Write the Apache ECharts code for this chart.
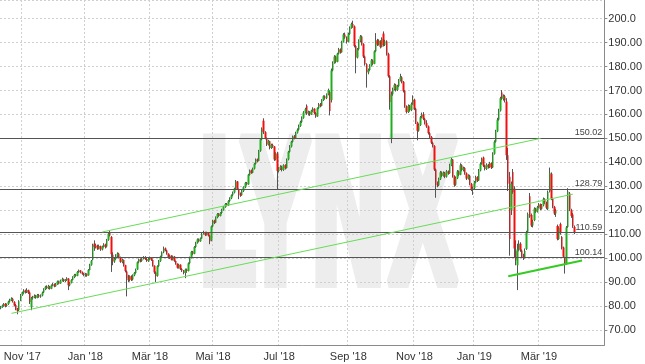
<!DOCTYPE html>
<html><head><meta charset="utf-8">
<script src="https://cdn.jsdelivr.net/npm/echarts@6/dist/echarts.min.js"></script>
<style>html,body{margin:0;padding:0;background:#fff}#c{width:645px;height:364px}</style>
</head><body><div id="c"></div><script>
// ---- data ----
const monthNames = ['Jan','Feb','Mär','Apr','Mai','Jun','Jul','Aug','Sep','Okt','Nov','Dez'];
const firstDay = '2017-10-12';
const holidays = ['2017-12-25','2017-12-26','2018-01-01','2018-03-30','2018-04-02','2018-05-01','2018-12-24','2018-12-25','2018-12-26','2018-12-31','2019-01-01','2019-04-19','2019-04-22'];
const totalSlots = 393;
// [open, close, low, high]
const ohlc = [
[79.0,79.5,78.6,80.0],[79.6,80.2,79.2,80.6],[80.0,80.8,79.6,81.2],[80.9,80.0,79.4,81.2],[80.0,80.6,79.6,81.0],
[80.8,81.8,80.4,82.2],[81.8,82.6,81.4,83.0],[82.4,83.0,82.0,83.6],[83.0,81.8,81.4,83.4],[81.6,80.2,79.8,82.0],
[80.4,78.6,78.2,80.8],[78.8,78.0,76.5,79.2],[78.2,82.0,77.8,82.4],[82.2,84.5,82.0,85.0],[84.6,85.6,84.2,86.0],
[85.4,86.4,85.0,87.0],[86.4,85.8,85.2,86.8],[85.8,86.6,85.4,87.4],[86.6,85.4,85.0,86.8],[85.6,81.6,80.8,86.0],
[79.4,83.2,78.2,83.8],[83.2,83.6,82.6,84.2],[83.6,84.2,83.2,84.8],[84.2,83.4,83.0,84.6],[83.4,84.6,83.2,85.0],
[84.6,83.8,83.4,85.0],[83.8,84.4,83.4,84.8],[84.4,85.5,84.0,86.0],[85.6,87.0,85.4,87.4],[87.0,88.0,86.6,88.4],
[88.0,87.4,87.0,88.6],[87.4,88.2,87.0,88.8],[88.2,87.2,86.8,88.4],[87.2,88.6,87.0,89.0],[88.6,89.0,88.2,89.6],
[89.0,88.2,87.8,89.4],[88.2,89.2,88.0,89.6],[89.2,90.2,88.8,90.6],[90.2,89.4,89.0,90.6],[89.4,90.6,89.2,91.0],
[90.6,91.2,90.2,91.8],[91.2,90.4,90.0,91.4],[90.4,90.8,90.0,91.2],[90.8,91.6,90.4,92.0],[91.4,88.6,86.6,91.6],
[88.6,89.6,88.2,90.0],[89.6,90.8,89.4,91.2],[90.8,92.0,90.6,92.4],[92.0,93.0,91.6,93.4],[93.0,92.6,92.2,93.4],
[92.6,94.2,92.4,94.6],[94.2,94.8,93.8,95.2],[94.8,94.0,93.6,95.0],[94.0,93.4,93.0,94.4],[93.4,92.8,92.4,93.8],
[92.8,93.2,92.2,93.8],[93.4,92.6,92.2,93.6],[92.8,95.0,92.6,95.4],[95.0,97.2,94.8,97.6],[97.2,98.8,96.8,99.2],
[99.4,105.4,99.0,106.0],[106.0,104.6,103.0,107.4],[104.6,105.2,104.0,106.0],[105.2,104.0,103.4,105.6],[104.0,105.0,103.6,105.6],
[105.0,103.6,103.0,105.2],[103.6,104.8,103.2,105.2],[104.8,105.6,104.4,106.2],[105.6,104.6,104.0,106.0],[104.8,107.6,104.4,108.0],
[107.6,110.2,107.2,110.8],[110.8,109.4,109.0,111.6],[108.8,101.6,94.2,109.2],[101.4,98.6,97.0,102.4],[98.6,99.6,98.0,100.2],
[99.6,101.0,99.2,101.6],[101.0,101.8,100.4,102.4],[101.8,100.2,99.8,102.2],[100.2,98.4,98.0,100.6],[98.4,99.2,97.8,99.8],
[99.2,97.0,96.4,99.4],[97.0,94.6,94.0,97.2],[94.4,92.0,84.0,94.8],[92.2,90.8,90.0,93.0],[90.8,92.4,90.2,92.8],
[92.4,91.0,90.4,92.8],[91.0,92.8,90.6,93.2],[92.8,93.8,92.4,94.2],[93.8,95.0,93.4,95.6],[95.2,98.2,95.0,98.6],
[98.2,99.4,97.8,99.8],[99.4,98.8,98.2,99.8],[98.8,99.8,98.4,100.2],[99.8,100.4,99.4,100.8],[100.4,99.6,99.2,100.8],
[99.6,98.8,98.4,100.0],[98.8,99.6,98.4,100.0],[99.6,100.2,99.2,100.6],[100.2,99.2,98.8,100.4],[99.2,96.8,96.4,99.4],
[96.8,94.0,93.4,97.0],[94.0,92.4,90.0,94.4],[92.6,96.6,92.2,97.0],[96.6,98.8,96.2,99.2],[98.8,100.6,98.4,101.0],
[100.6,102.4,100.2,102.8],[102.4,104.0,102.0,104.8],[104.0,103.2,102.8,104.4],[103.2,101.8,101.4,103.4],[101.8,100.2,99.8,102.0],
[100.2,101.0,99.6,101.4],[101.0,99.4,99.0,101.2],[99.4,100.6,99.0,101.0],[100.6,98.8,98.4,100.8],[98.8,97.6,97.2,99.0],
[97.6,96.0,95.6,97.8],[96.0,97.2,95.6,97.6],[97.2,95.4,95.0,97.4],[95.4,94.8,94.2,95.8],[94.8,93.8,93.2,95.0],
[93.8,95.2,91.6,95.6],[95.2,94.6,93.8,95.6],[94.6,97.8,94.4,98.2],[97.8,100.2,97.4,100.6],[100.2,102.6,99.8,103.0],
[102.6,101.8,101.2,103.0],[101.8,104.6,101.6,105.0],[104.6,106.4,104.2,106.8],[106.4,107.8,106.0,108.2],[107.8,107.0,106.6,108.2],
[107.0,108.2,106.8,108.6],[108.2,110.2,108.0,110.6],[110.2,110.8,109.8,111.4],[110.8,109.6,109.2,111.0],[109.6,110.6,109.4,111.0],
[110.6,109.4,109.0,110.8],[109.4,107.0,105.8,109.6],[107.4,113.2,107.0,113.6],[113.2,115.6,112.8,116.0],[115.6,114.8,114.2,116.0],
[114.8,117.0,114.6,117.4],[117.0,118.4,116.6,118.8],[118.4,117.6,117.2,118.8],[117.6,118.8,117.4,119.2],[118.8,120.2,118.4,120.6],
[120.2,121.4,119.8,121.8],[121.4,122.6,121.0,123.0],[122.6,122.0,121.6,123.0],[122.0,123.8,121.8,124.2],[123.8,125.0,123.4,125.4],
[125.0,126.2,124.6,126.6],[126.2,127.4,125.8,127.8],[127.4,129.0,127.0,129.4],[129.0,132.0,128.8,132.6],[132.0,128.8,128.4,132.2],
[128.8,127.0,124.6,129.0],[127.0,126.2,125.6,127.4],[126.2,128.0,126.0,128.4],[128.0,129.6,127.6,130.0],[129.6,131.4,129.2,131.8],
[131.4,130.8,130.4,131.8],[130.8,134.8,130.6,135.2],[134.8,136.6,134.4,137.0],[136.6,135.6,135.2,137.0],[135.6,137.4,135.4,137.8],
[137.4,139.4,137.0,139.8],[139.4,141.2,139.0,141.6],[141.2,140.6,140.0,141.6],[140.6,144.8,140.4,145.2],[144.8,149.6,144.4,150.0],
[149.6,154.0,149.2,154.6],[157.4,152.6,151.8,158.4],[152.6,150.2,149.6,153.0],[150.2,147.4,146.8,150.4],[147.4,148.8,147.0,149.4],
[148.8,146.0,145.4,149.0],[146.0,147.2,145.6,147.8],[147.2,146.6,146.0,147.8],[146.6,141.2,140.6,146.8],[141.2,143.8,140.8,144.2],
[143.6,136.4,128.6,144.4],[136.4,137.4,135.8,138.0],[137.4,138.2,136.8,138.8],[138.2,136.8,136.2,138.6],[136.8,138.8,136.4,139.2],
[138.8,137.6,137.0,139.2],[137.6,141.2,137.4,141.6],[141.2,144.4,140.8,144.8],[144.4,146.6,144.0,147.2],[146.6,148.6,146.2,149.0],
[148.6,150.8,148.2,151.2],[150.8,150.2,149.6,151.4],[150.2,152.4,150.0,152.8],[152.4,153.6,152.0,154.2],[153.6,155.2,153.2,155.8],
[155.2,156.8,154.8,157.4],[156.8,158.6,156.4,159.2],[158.6,160.8,158.2,161.4],[160.8,162.2,160.4,162.8],[163.6,160.4,159.8,164.2],
[160.4,161.0,159.6,161.6],[161.0,160.0,159.4,161.4],[160.0,161.6,159.8,162.0],[161.6,162.4,161.0,163.0],[162.4,160.6,160.0,162.6],
[160.6,159.2,158.6,161.0],[159.2,162.6,159.0,163.0],[162.6,164.2,162.2,164.8],[164.2,163.6,163.0,164.8],[163.6,166.0,163.4,166.4],
[166.0,167.6,165.6,168.0],[167.6,166.8,166.2,168.0],[166.8,168.4,166.4,168.8],[168.4,170.2,168.0,170.8],[169.4,161.4,159.6,170.0],
[166.0,178.4,165.0,179.2],[178.4,181.6,178.0,182.2],[181.6,184.2,181.2,184.8],[184.2,182.0,181.4,184.6],[182.0,185.4,181.8,185.8],
[185.4,187.2,185.0,187.8],[187.2,186.0,185.4,187.6],[186.0,190.4,185.8,190.8],[190.4,193.4,190.0,194.0],[193.4,192.2,191.6,194.2],
[192.2,190.4,189.6,192.6],[190.4,193.6,190.2,194.2],[193.6,196.2,193.2,196.8],[196.2,197.8,195.8,198.4],[197.8,196.8,196.2,199.2],
[196.8,188.6,188.0,197.2],[188.6,183.8,177.2,189.0],[183.8,187.2,183.4,187.8],[187.2,190.8,186.8,191.4],[190.8,192.6,190.2,193.2],
[192.6,189.4,188.8,193.0],[189.4,184.2,183.6,189.8],[184.2,181.0,180.4,184.6],[181.0,177.6,171.2,181.4],[177.6,178.6,176.8,179.2],
[178.6,180.4,178.2,181.0],[180.4,182.6,180.0,183.2],[182.6,181.2,180.6,183.0],[181.2,186.4,181.0,186.8],[186.4,191.0,186.0,194.0],
[191.0,189.2,188.6,191.6],[189.2,190.8,188.8,191.4],[190.8,188.2,187.6,191.0],[188.2,191.6,188.0,192.2],[193.8,189.0,188.4,194.7],
[189.0,190.6,188.6,191.2],[190.6,185.2,184.6,191.0],[185.2,176.0,175.4,185.8],[176.0,165.2,162.0,176.4],[150.2,168.4,148.0,169.6],
[168.4,170.6,167.8,171.2],[170.6,172.4,170.0,173.0],[172.4,170.2,169.6,172.8],[170.2,171.8,169.8,172.4],[171.8,174.2,171.4,174.8],
[174.2,175.6,173.8,177.0],[175.6,173.6,173.0,176.0],[173.6,169.8,169.2,174.0],[169.8,163.4,162.8,170.2],[163.4,161.0,160.4,163.8],
[161.0,163.6,160.6,164.2],[163.6,161.8,161.2,164.0],[161.8,164.4,161.4,165.0],[164.4,166.2,164.0,168.0],[166.2,162.4,161.8,166.6],
[162.4,156.6,156.0,162.8],[156.6,153.2,149.2,157.0],[153.2,155.6,152.8,156.2],[155.6,158.8,155.2,159.4],[158.8,160.0,158.4,160.8],
[160.0,158.2,157.6,161.0],[158.2,156.4,155.8,158.6],[156.4,155.0,154.4,157.6],[155.0,152.2,151.6,155.4],[152.2,150.6,150.0,152.6],
[150.6,148.2,147.6,151.0],[148.2,146.8,146.2,148.6],[146.8,137.0,136.4,147.2],[137.0,131.2,125.2,137.4],[131.2,130.4,129.6,132.0],
[130.4,133.0,130.0,133.6],[133.0,135.8,132.6,136.4],[135.8,134.4,133.8,136.2],[134.4,135.6,134.0,136.2],[135.6,134.0,133.4,136.0],
[134.0,136.2,133.6,136.8],[136.2,135.4,134.8,136.6],[135.4,138.8,135.2,139.4],[138.8,141.2,138.4,141.8],[141.2,134.2,133.6,141.4],
[134.2,130.6,129.8,134.6],[130.6,133.4,130.2,134.0],[133.4,136.2,133.0,136.8],[136.2,134.8,134.2,136.6],[134.8,138.8,134.6,139.6],
[138.8,136.8,136.2,139.2],[136.8,137.6,136.2,138.2],[137.6,135.4,134.8,138.0],[135.4,133.2,132.6,135.8],[133.2,134.4,132.8,135.0],
[134.4,131.0,130.4,134.8],[131.0,128.6,128.0,131.4],[128.6,129.2,126.4,129.8],[129.2,131.6,128.8,132.2],[131.6,133.8,131.2,134.4],
[133.8,132.4,131.8,134.2],[132.4,136.6,132.2,137.2],[136.6,139.4,136.2,140.0],[139.4,141.4,139.0,142.0],[142.0,138.6,138.0,142.4],
[138.6,137.2,136.6,139.0],[137.2,139.0,136.8,139.6],[139.0,138.0,137.4,139.4],[138.0,139.6,137.6,140.2],[139.6,137.8,137.2,140.0],
[137.8,143.6,137.6,144.2],[143.6,148.6,143.2,149.2],[148.6,153.0,148.2,153.6],[153.0,157.8,152.6,158.6],[157.8,161.6,157.4,162.4],
[161.6,166.8,161.2,167.4],[169.2,166.6,166.0,170.2],[166.6,167.6,165.8,168.4],[167.6,165.8,165.0,168.2],[165.4,143.0,141.0,166.8],
[143.0,131.0,128.0,146.0],[134.0,108.0,101.0,136.0],[120.0,131.0,118.0,132.0],[136.0,127.5,126.8,137.2],[129.0,104.0,100.0,130.0],
[103.0,99.0,97.0,107.4],[97.0,103.6,86.6,106.0],[103.6,106.0,102.8,107.4],[106.0,103.2,102.6,106.6],[103.2,101.0,100.2,103.6],
[101.0,100.4,99.2,101.8],[100.4,103.0,99.8,104.0],[103.8,110.8,103.4,111.4],[111.0,118.4,110.4,119.0],[125.8,117.4,116.8,127.2],
[118.0,113.6,113.0,118.6],[113.6,115.2,112.8,116.0],[115.8,120.6,115.4,121.2],[120.6,119.4,118.8,121.0],[119.4,121.2,119.0,121.8],
[121.2,122.4,120.8,123.0],[122.4,120.6,120.0,122.8],[120.6,122.0,120.2,122.6],[122.0,124.6,121.6,125.3],[124.6,123.2,122.6,125.0],
[123.2,121.0,120.4,123.6],[120.4,127.6,120.0,128.2],[127.8,135.6,127.4,137.8],[135.2,124.8,124.2,135.8],[124.8,121.4,120.8,125.2],
[121.4,118.6,118.0,121.8],[118.6,119.8,117.2,120.6],[113.4,108.0,107.4,114.0],[108.0,112.6,107.6,113.2],[114.2,110.4,109.8,114.8],
[108.8,104.2,103.6,109.2],[104.4,100.6,100.0,104.8],[100.2,97.4,93.5,100.6],[97.6,112.8,97.2,113.4],[113.0,127.8,112.6,129.2],
[127.0,120.2,119.6,127.6],[120.0,117.6,116.8,120.6],[118.2,113.2,112.6,118.8],[113.0,110.6,110.0,113.6]
];
const levels = [150.02, 128.79, 110.59, 100.14];
// trend lines: [startIndex, startValue, endIndex, endValue]
const upperChannel = [66, 110.9, 351, 150.0];
const lowerChannel = [7, 76.9, 372, 126.7];
const supportLine = [330, 92.4, 378, 99.0];

// ---- build categories (trading days) ----
function fmt(d){return d.toISOString().slice(0,10);}
const dates = [];
{
  const d = new Date(firstDay + 'T00:00:00Z');
  while (dates.length < totalSlots) {
    const wd = d.getUTCDay();
    const s = fmt(d);
    if (wd !== 0 && wd !== 6 && holidays.indexOf(s) < 0) dates.push(s);
    d.setUTCDate(d.getUTCDate() + 1);
  }
}
function isMarkIdx(i){
  if (i === 0 || i >= ohlc.length) return false;
  const m = +dates[i].slice(5,7) - 1, pm = +dates[i-1].slice(5,7) - 1;
  return m !== pm && m % 2 === 0;
}
function labelOf(s){
  const m = +s.slice(5,7) - 1;
  return monthNames[m] + " '" + s.slice(2,4);
}
const bodies = ohlc.map(r => [r[0], r[1], Math.min(r[0], r[1]), Math.max(r[0], r[1])]);
function seg(a){ return [{coord:[dates[a[0]], a[1]]}, {coord:[dates[a[2]], a[3]]}]; }

const FONT = '"Liberation Sans", Arial, sans-serif';
const chart = echarts.init(document.getElementById('c'), null, {renderer:'canvas'});
chart.setOption({
  animation: false,
  backgroundColor: '#ffffff',
  grid: {left: 0, right: 36, top: -1, bottom: 19, containLabel: false},
  graphic: [{
    type: 'text', z: -10, x: 197, y: 133, scaleX: 0.47, scaleY: 1,
    style: {text: 'LYNX', fill: '#ededed', stroke: '#ededed', lineWidth: 10,
            font: 'bold 198px "DejaVu Sans", sans-serif', textVerticalAlign: 'top'}
  }],
  xAxis: {
    type: 'category', data: dates, boundaryGap: true,
    axisLine: {show: true, lineStyle: {color: '#8a8a8a'}},
    axisTick: {show: false},
    axisLabel: {interval: (i) => isMarkIdx(i), formatter: (v) => labelOf(v),
                color: '#333', fontSize: 11, fontFamily: FONT, margin: 6},
    splitLine: {show: true, interval: (i) => isMarkIdx(i), lineStyle: {color: '#cfcfcf', type: [2, 2]}}
  },
  yAxis: {
    type: 'value', position: 'right', min: 63.67, max: 207.83, splitNumber: 14,
    minInterval: 10, maxInterval: 10,
    axisLine: {show: true, lineStyle: {color: '#8a8a8a'}},
    axisTick: {show: true, length: 3, lineStyle: {color: '#8a8a8a'}},
    axisLabel: {showMinLabel: false, showMaxLabel: false, color: '#333', fontSize: 11, fontFamily: FONT, margin: 4,
                formatter: (v) => (v >= 200 ? v.toFixed(1) : v.toFixed(2))},
    splitLine: {show: true, lineStyle: {color: '#cfcfcf', type: [2, 2]}}
  },
  series: [
    {
      type: 'candlestick', name: 'wick', data: ohlc.map(r => [r[0], r[1], r[2], r[3]]),
      barWidth: 1,
      itemStyle: {color: '#555', color0: '#555', borderColor: '#555', borderColor0: '#555', borderWidth: 1},
      silent: true
    },
    {
      type: 'candlestick', name: 'body', data: bodies, barWidth: 2,
      itemStyle: {color: '#1fae1f', color0: '#f01010', borderColor: '#1fae1f', borderColor0: '#f01010', borderWidth: 0},
      silent: true,
      markLine: {
        silent: true, symbol: 'none', animation: false,
        data: [
          ...levels.map(v => ({yAxis: v,
            lineStyle: {color: '#555', width: 1, type: 'solid'},
            label: {show: true, position: 'insideEndTop', formatter: () => v.toFixed(2),
                    color: '#444', fontSize: 9, fontFamily: FONT, distance: [2, 1]}})),
          seg(upperChannel).map((p, k) => k === 0 ? Object.assign(p, {lineStyle: {color: '#66dd55', width: 1, type: 'solid'}, label: {show: false}}) : p),
          seg(lowerChannel).map((p, k) => k === 0 ? Object.assign(p, {lineStyle: {color: '#66dd55', width: 1, type: 'solid'}, label: {show: false}}) : p),
          seg(supportLine).map((p, k) => k === 0 ? Object.assign(p, {lineStyle: {color: '#33cc22', width: 2, type: 'solid'}, label: {show: false}}) : p)
        ]
      }
    }
  ]
});
</script></body></html>
